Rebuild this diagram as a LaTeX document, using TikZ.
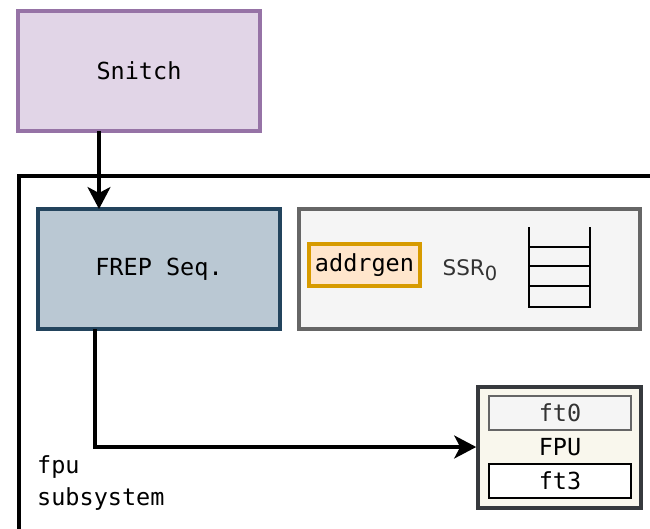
\documentclass[tikz,border=0pt]{standalone}
\usepackage{fontspec}
\setmainfont{DejaVu Sans}
\setmonofont{DejaVu Sans Mono}
\usetikzlibrary{arrows.meta}
\definecolor{snfill}{HTML}{E1D5E7}\definecolor{snline}{HTML}{9673A6}
\definecolor{frfill}{HTML}{BAC8D3}\definecolor{frline}{HTML}{23445D}
\definecolor{grfill}{HTML}{F5F5F5}\definecolor{grline}{HTML}{666666}
\definecolor{orfill}{HTML}{FFE6CC}\definecolor{orline}{HTML}{D79B00}
\definecolor{fpfill}{HTML}{F9F7ED}\definecolor{fpline}{HTML}{36393D}
\definecolor{txt}{HTML}{333333}
\begin{document}
\begin{tikzpicture}[x=1pt,y=-1pt,
  box/.style={draw, line width=3.2pt, inner sep=0pt, font=\ttfamily\fontsize{23.5}{26}\selectfont},
  conn/.style={line width=3.2pt, -{Stealth[length=22pt,width=23pt,inset=6pt]}},
  mtext/.style={font=\ttfamily\fontsize{23.5}{32}\selectfont}]
\useasboundingbox (0,0) rectangle (650,528);
% outer subsystem
\draw[line width=3.4pt] (19,530) -- (19,176) -- (652,176);
\node[mtext, anchor=north west, align=left, inner sep=0pt] (sub) at (37,455) {fpu\\subsystem};
% Snitch
\node[box, fill=snfill, draw=snline, minimum width=242pt, minimum height=120pt] (snitch) at (139,71) {Snitch};
% FREP
\node[box, fill=frfill, draw=frline, minimum width=242pt, minimum height=120pt] (frep) at (159,269) {FREP Seq.};
% SSR
\node[box, fill=grfill, draw=grline, minimum width=341pt, minimum height=120pt] (ssr) at (469.5,269) {};
\node[box, fill=orfill, draw=orline, minimum width=111pt, minimum height=42pt] (addr) at (364.5,265) {addrgen};
\node[text=txt, font=\fontsize{21.5}{24}\selectfont, inner sep=0pt] (ssrl) at (470,270) {SSR\raisebox{-5pt}{\fontsize{19.5}{20}\selectfont 0}};
% FIFO
\draw[line width=2.4pt] (529,227) -- (529,307) -- (590,307) -- (590,227);
\draw[line width=2.4pt] (529,247) -- (590,247) (529,266) -- (590,266) (529,286) -- (590,286);
% FPU
\node[box, fill=fpfill, draw=fpline, line width=3.6pt, minimum width=163pt, minimum height=121pt] (fpu) at (559.5,447.5) {};
\node[box, fill=grfill, draw=grline, line width=2pt, minimum width=142pt, minimum height=34pt, text=txt] (ft0) at (560,413) {ft0};
\node[mtext, inner sep=0pt] (fpul) at (560,447) {FPU};
\node[box, fill=white, draw=black, line width=2.4pt, minimum width=142pt, minimum height=34pt] (ft3) at (560,481) {ft3};
% connectors
\coordinate (s1) at (99,131);
\draw[conn] (s1) -- (99,209);
\coordinate (f1) at (95,329);
\draw[conn] (f1) -- (95,447) -- (fpu.west |- 0,447);
\end{tikzpicture}
\end{document}
